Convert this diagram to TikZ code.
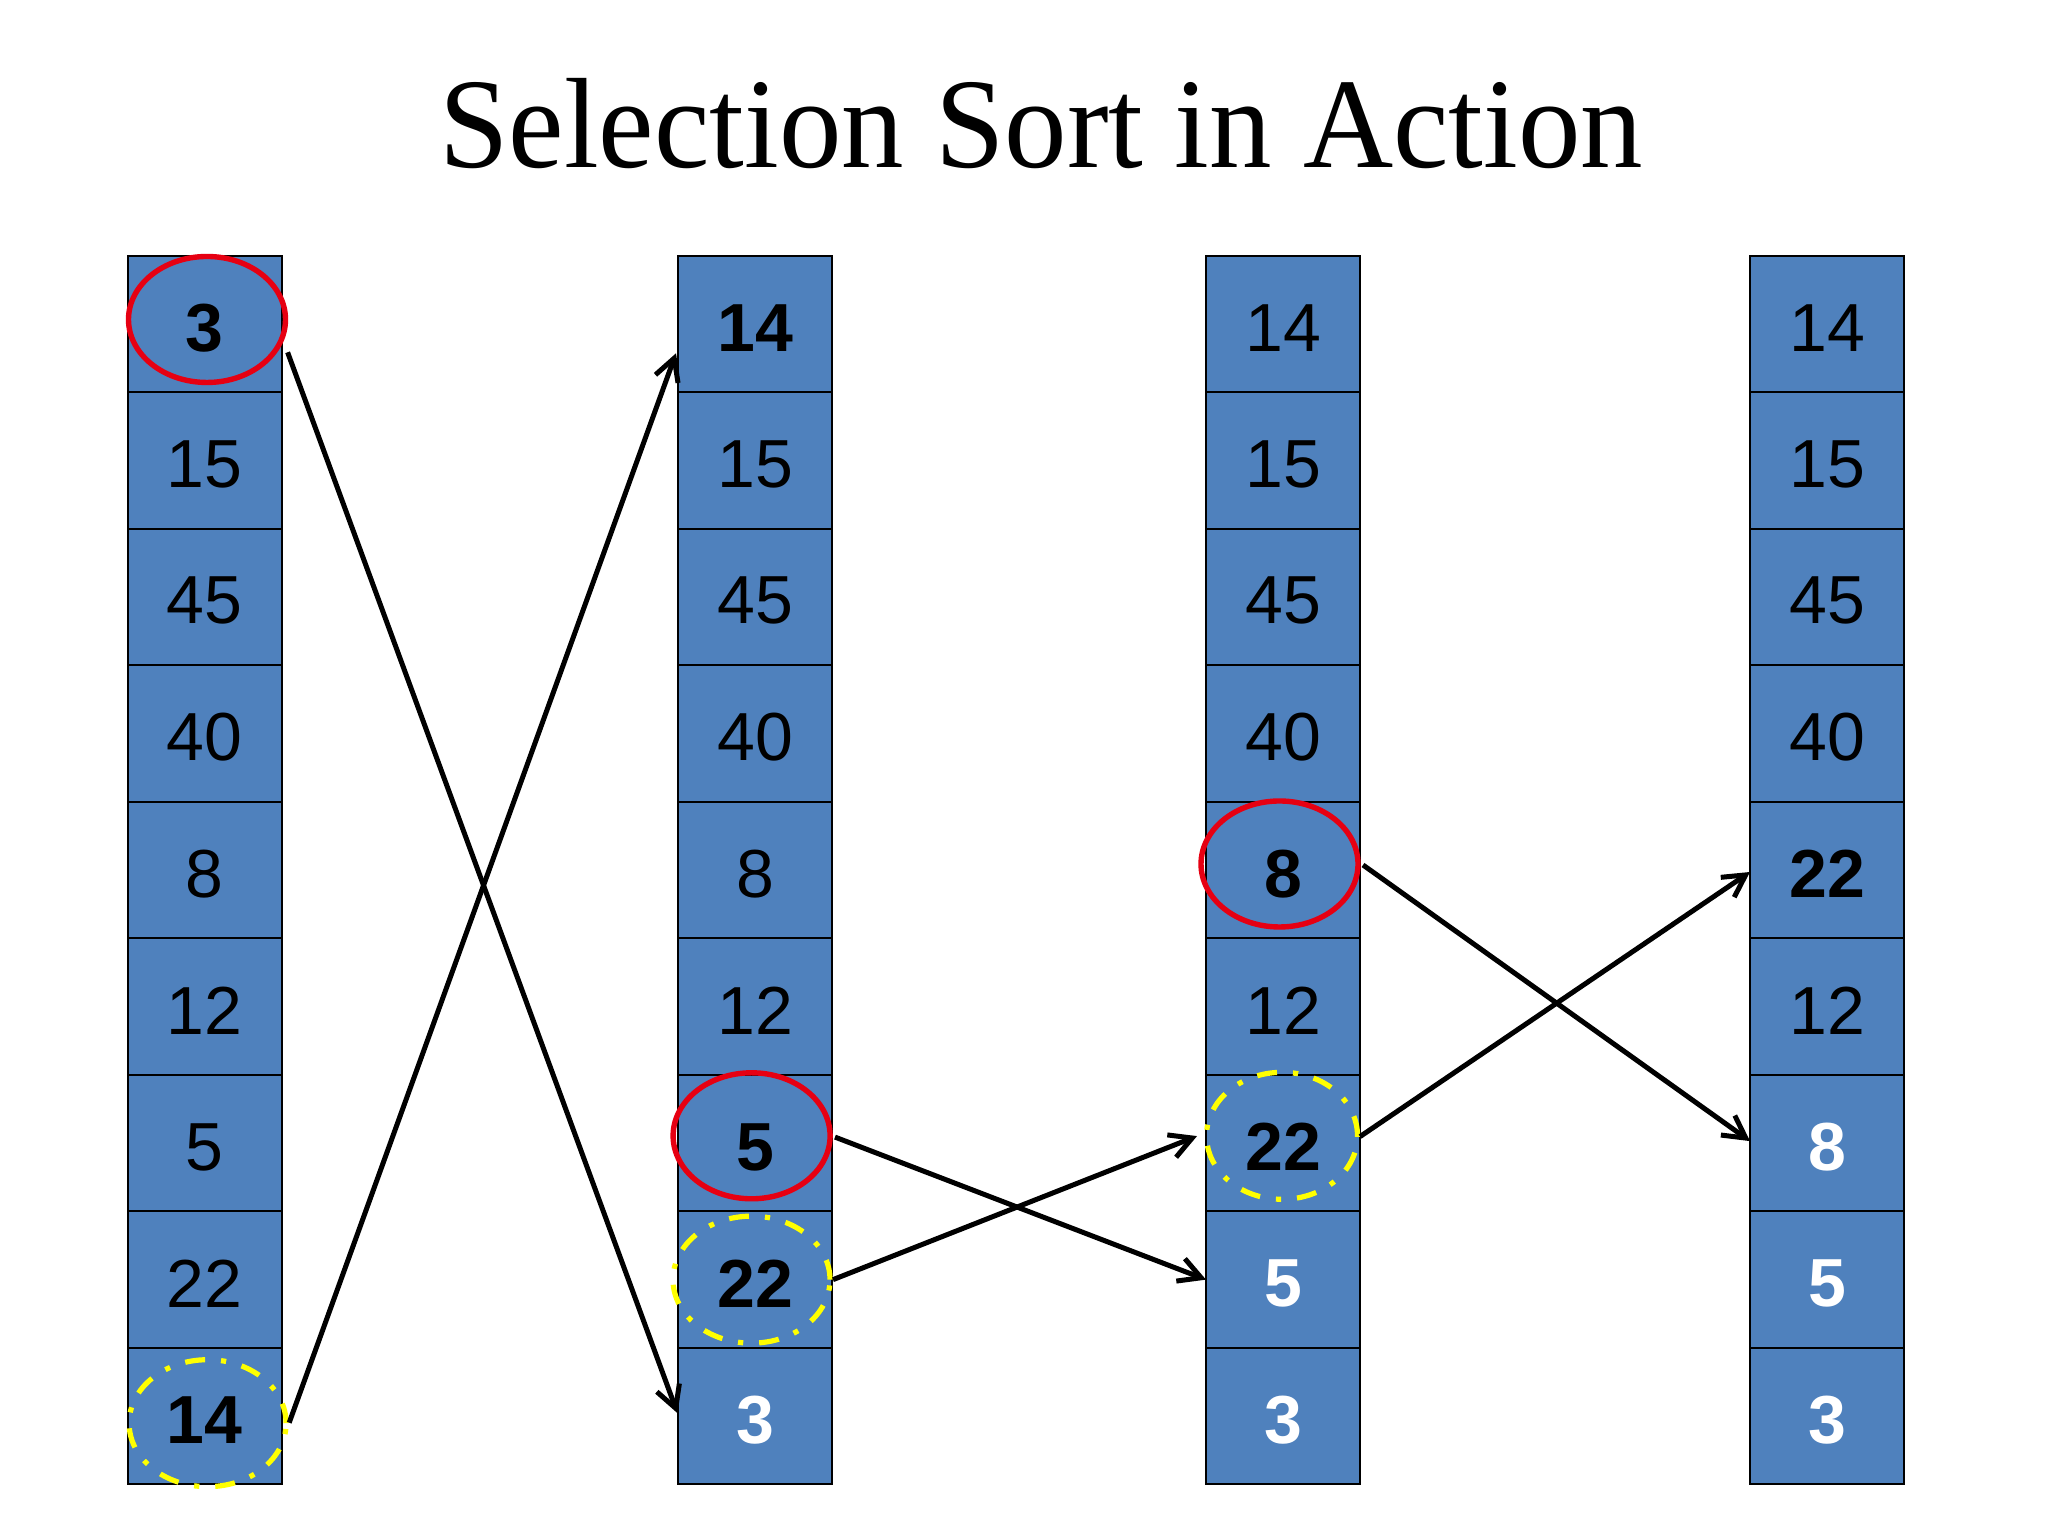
\documentclass[tikz,border=0pt]{standalone}
\usepackage{fontspec}
\setmainfont{Liberation Serif}
\newfontfamily\arialf{Liberation Sans}
\usetikzlibrary{calc,arrows.meta,shapes.geometric}
\definecolor{cellblue}{RGB}{79,129,189}
\definecolor{ringred}{RGB}{230,0,18}
\definecolor{ringyellow}{RGB}{255,255,0}
\begin{document}
\begin{tikzpicture}[x=0.5pt,y=-0.5pt,
  cell/.style={draw=black, line width=1pt, fill=cellblue, minimum width=77pt, minimum height=68.275pt, inner sep=0pt, outer sep=0pt},
  dign/.style={font=\arialf\fontsize{34}{40}\selectfont, inner sep=0pt, text=black},
  digb/.style={font=\arialf\bfseries\fontsize{34}{40}\selectfont, inner sep=0pt, text=black},
  digw/.style={font=\arialf\bfseries\fontsize{34}{40}\selectfont, inner sep=0pt, text=white},
  redring/.style={draw=ringred, line width=2.7pt, ellipse, inner sep=0pt, outer sep=0pt, minimum width=78.5pt, minimum height=63pt},
  yelring/.style={draw=ringyellow, line width=2.6pt, ellipse, inner sep=0pt, outer sep=0pt, minimum width=78.5pt, minimum height=63.5pt, dash pattern=on 10pt off 8pt on 2.6pt off 8pt},
  swaparrow/.style={draw=black, line width=2.5pt, -{Straight Barb[length=11pt,width=12pt]}},
  titletext/.style={font=\fontsize{64.25}{76}\selectfont, inner sep=0pt, anchor=base}
]
\fill[white] (0,0) rectangle (2048,1536);
\useasboundingbox (0,0) rectangle (2048,1536);

\node[titletext] (title) at (1041,167.7) {\scalebox{0.972}[1]{Selection Sort in Action}};

% columns
\foreach \t/\s [count=\r] in {3/b,15/n,45/n,40/n,8/n,12/n,5/n,22/n,14/b}{
  \node[cell] (c1-\r) at (204.6,{255.5+136.55*(\r-0.5)}) {};
  \node[dig\s] (t1-\r) at ($(c1-\r.center)+(0,4)$) {\t};
}
\foreach \t/\s [count=\r] in {14/b,15/n,45/n,40/n,8/n,12/n,5/b,22/b,3/w}{
  \node[cell] (c2-\r) at (755,{255.5+136.55*(\r-0.5)}) {};
  \node[dig\s] (t2-\r) at ($(c2-\r.center)+(0,4)$) {\t};
}
\foreach \t/\s [count=\r] in {14/n,15/n,45/n,40/n,8/b,12/n,22/b,5/w,3/w}{
  \node[cell] (c3-\r) at (1283,{255.5+136.55*(\r-0.5)}) {};
  \node[dig\s] (t3-\r) at ($(c3-\r.center)+(0,4)$) {\t};
}
\foreach \t/\s [count=\r] in {14/n,15/n,45/n,40/n,22/b,12/n,8/w,5/w,3/w}{
  \node[cell] (c4-\r) at (1827,{255.5+136.55*(\r-0.5)}) {};
  \node[dig\s] (t4-\r) at ($(c4-\r.center)+(0,4)$) {\t};
}

% rings
\node[redring] (m1) at ($(c1-1.center)+(2.4,-4.3)$) {};
\node[yelring] (y1) at ($(c1-9.center)+(3,7)$) {};
\node[redring] (m2) at ($(c2-7.center)+(-3.4,-7.3)$) {};
\node[yelring] (y2) at ($(c2-8.center)+(-3.5,0)$) {};
\node[redring] (m3) at ($(c3-5.center)+(-3.5,-6)$) {};
\node[yelring, minimum width=75.5pt] (y3) at ($(c3-7.center)+(-1,-7.3)$) {};

% arrow end points
\coordinate (sA) at ($(c1-1.east)+(6,28.5)$);
\coordinate (eA) at ($(c2-9.west)+(-0.5,-3)$);
\coordinate (sB) at ($(c1-9.east)+(7.6,6.5)$);
\coordinate (eB) at ($(c2-1.west)+(-2,29.5)$);
\coordinate (sC) at ($(c2-7.east)+(3,-6)$);
\coordinate (eC) at ($(c3-8.west)+(0,0)$);
\coordinate (sD) at ($(c2-8.east)+(1,0)$);
\coordinate (eD) at ($(c3-7.west)+(-9,-7)$);
\coordinate (sE) at ($(c3-5.east)+(3,-5)$);
\coordinate (eE) at ($(c4-7.west)+(0,-2)$);
\coordinate (sF) at ($(c3-7.east)+(0,-6.5)$);
\coordinate (eF) at ($(c4-5.west)+(0,2)$);

\draw[swaparrow] (sA) -- (eA);
\draw[swaparrow] (sB) -- (eB);
\draw[swaparrow] (sC) -- (eC);
\draw[swaparrow] (sD) -- (eD);
\draw[swaparrow] (sE) -- (eE);
\draw[swaparrow] (sF) -- (eF);
\end{tikzpicture}
\end{document}
